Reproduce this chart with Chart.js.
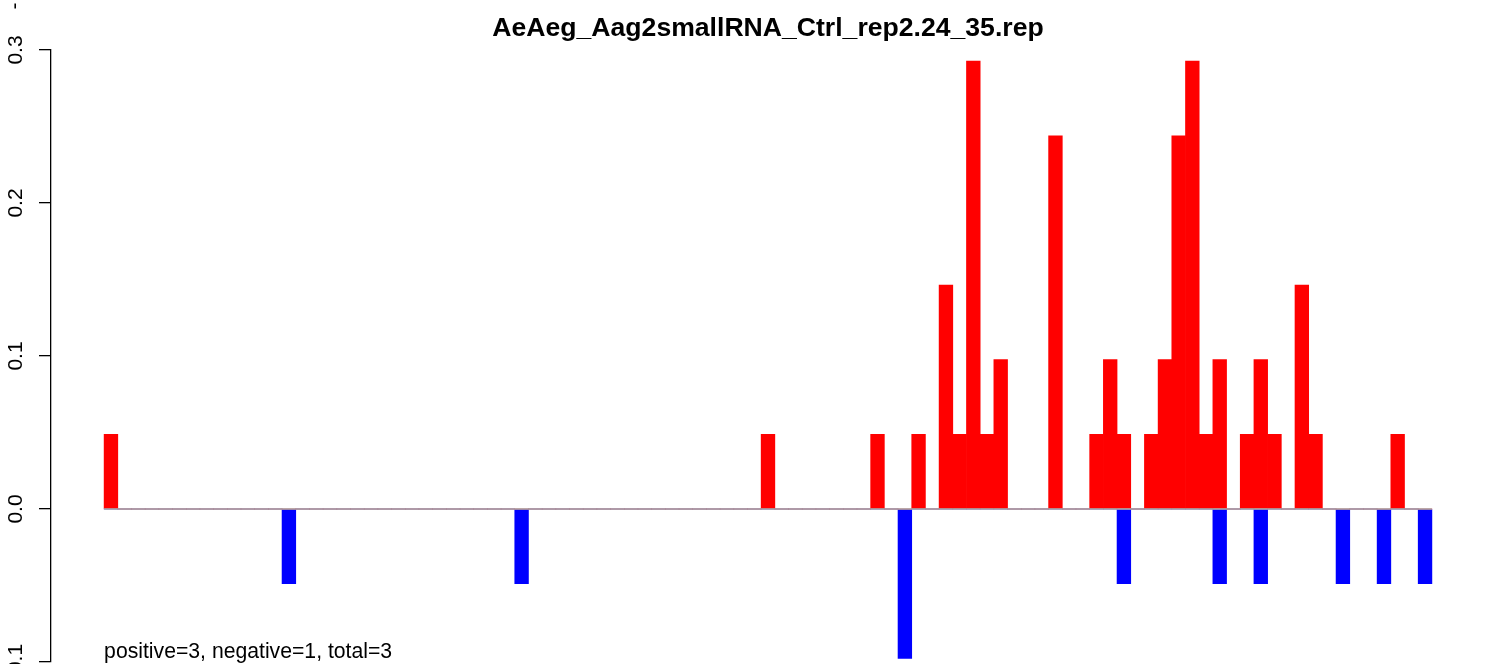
<!DOCTYPE html>
<html><head><meta charset="utf-8">
<script src="https://cdn.jsdelivr.net/npm/chart.js@4/dist/chart.umd.min.js"></script>
<style>
html,body{margin:0;padding:0;background:#fff;overflow:hidden}
#wrap{position:absolute;left:0;top:0;width:1486px;height:664px}
</style></head><body>
<div id="wrap"><canvas id="c" width="1486" height="664"></canvas></div>
<script>
const titleText = "AeAeg_Aag2smallRNA_Ctrl_rep2.24_35.rep";
const noteText = "positive=3, negative=1, total=3";
const yTicks = [-0.1, 0, 0.1, 0.2, 0.3];
const yTickLabels = ["-0.1", "0.0", "0.1", "0.2", "0.3"];
const strayLabel = "-";

// one value per position (97 positions)
const positive = [
  0.0488,0,0,0,0,0,0,0,0,0,
  0,0,0,0,0,0,0,0,0,0,
  0,0,0,0,0,0,0,0,0,0,
  0,0,0,0,0,0,0,0,0,0,
  0,0,0,0,0,0,0,0,0.0488,0,
  0,0,0,0,0,0,0.0488,0,0,0.0488,
  0,0.1463,0.0488,0.2927,0.0488,0.0976,0,0,0,0.2439,
  0,0,0.0488,0.0976,0.0488,0,0.0488,0.0976,0.2439,0.2927,
  0.0488,0.0976,0,0.0488,0.0976,0.0488,0,0.1463,0.0488,0,
  0,0,0,0,0.0488,0,0
];
const negative = [
  0,0,0,0,0,0,0,0,0,0,
  0,0,0,-0.0488,0,0,0,0,0,0,
  0,0,0,0,0,0,0,0,0,0,
  -0.0488,0,0,0,0,0,0,0,0,0,
  0,0,0,0,0,0,0,0,0,0,
  0,0,0,0,0,0,0,0,-0.0976,0,
  0,0,0,0,0,0,0,0,0,0,
  0,0,0,0,-0.0488,0,0,0,0,0,
  0,-0.0488,0,0,-0.0488,0,0,0,0,0,
  -0.0488,0,0,-0.0488,0,0,-0.0488
];

const n = positive.length;
const ext = 0.04 * n;

const textPlugin = {
  id: 'rtext',
  afterDatasetsDraw(chart) {
    const ctx = chart.ctx, xs = chart.scales.x, ys = chart.scales.y;
    const y0 = ys.getPixelForValue(0);
    ctx.save();
    ctx.strokeStyle = '#A6A6A6';
    ctx.lineWidth = 1.4;
    ctx.beginPath();
    ctx.moveTo(xs.getPixelForValue(0), y0);
    ctx.lineTo(xs.getPixelForValue(n), y0);
    ctx.stroke();
    ctx.restore();
  },
  afterDraw(chart) {
    const ctx = chart.ctx, xs = chart.scales.x, ys = chart.scales.y, ca = chart.chartArea;
    ctx.save();
    ctx.fillStyle = '#000';
    ctx.font = 'bold 26.6px "Liberation Sans", Arial, sans-serif';
    ctx.textAlign = 'center';
    ctx.textBaseline = 'alphabetic';
    ctx.fillText(titleText, (ca.left + ca.right) / 2, 36);
    ctx.font = '21.2px "Liberation Sans", Arial, sans-serif';
    ctx.textAlign = 'left';
    ctx.fillText(noteText, xs.getPixelForValue(0), 658);
    ctx.font = '21px "Liberation Sans", Arial, sans-serif';
    ctx.textAlign = 'center';
    yTicks.forEach((v, i) => {
      ctx.save();
      ctx.translate(22, ys.getPixelForValue(v));
      ctx.rotate(-Math.PI / 2);
      ctx.fillText(yTickLabels[i], 0, 0);
      ctx.restore();
    });
    ctx.save();
    ctx.translate(21, 6);
    ctx.rotate(-Math.PI / 2);
    ctx.fillText(strayLabel, 0, 0);
    ctx.restore();
    ctx.restore();
  }
};

new Chart(document.getElementById('c'), {
  type: 'bar',
  data: {
    datasets: [
      { data: positive.map((v, i) => ({ x: i + 0.5, y: v })), backgroundColor: '#FF0000',
        borderWidth: 0, grouped: false, barPercentage: 1, categoryPercentage: 1 },
      { data: negative.map((v, i) => ({ x: i + 0.5, y: v })), backgroundColor: '#0000FF',
        borderWidth: 0, grouped: false, barPercentage: 1, categoryPercentage: 1 }
    ]
  },
  options: {
    responsive: false,
    animation: false,
    devicePixelRatio: 1,
    layout: { padding: { left: 0, right: 1, top: 50, bottom: 2 } },
    plugins: { legend: { display: false }, title: { display: false }, tooltip: { enabled: false } },
    scales: {
      x: { type: 'linear', min: -ext, max: n + ext, display: false, offset: false },
      y: {
        min: -0.1, max: 0.3,
        afterFit: s => { s.width = 51; },
        ticks: { display: false, stepSize: 0.1 },
        grid: { drawOnChartArea: false, drawTicks: true, tickLength: 12, color: '#000', lineWidth: 1.3 },
        border: { display: true, color: '#000', width: 1.3 }
      }
    }
  },
  plugins: [textPlugin]
});
</script>
</body></html>
